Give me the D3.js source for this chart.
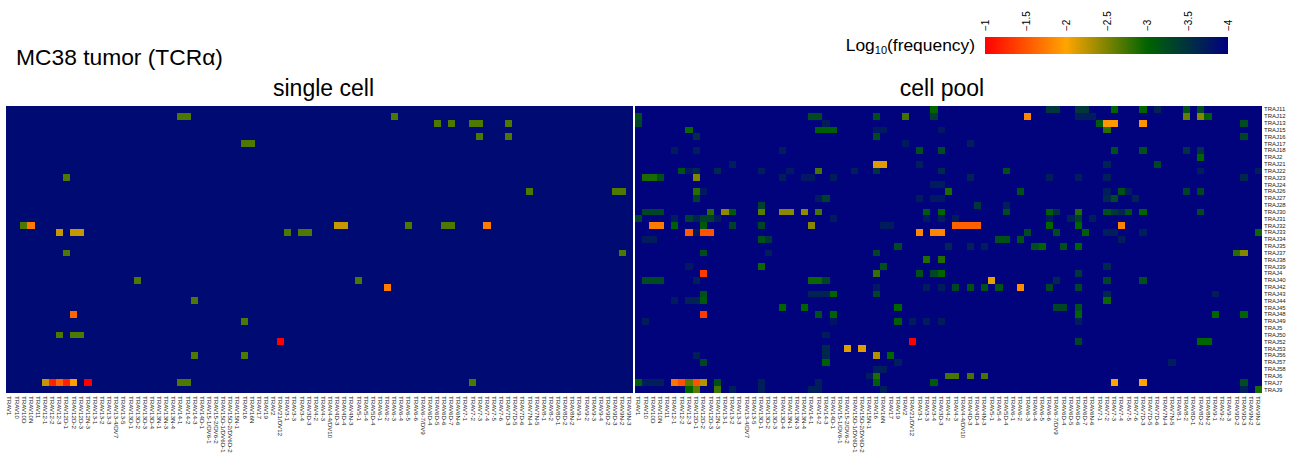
<!DOCTYPE html>
<html>
<head>
<meta charset="utf-8">
<script src="https://cdn.jsdelivr.net/npm/d3@7"></script>
<style>
  body { margin: 0; background: #fff; }
  text { font-family: "Liberation Sans", Arial, sans-serif; fill: #000; }
</style>
</head>
<body>
<div id="chart"></div>
<script>
var trajGenes = ["TRAJ11","TRAJ12","TRAJ13","TRAJ15","TRAJ16","TRAJ17","TRAJ18","TRAJ2","TRAJ21","TRAJ22","TRAJ23","TRAJ24","TRAJ26","TRAJ27","TRAJ28","TRAJ30","TRAJ31","TRAJ32","TRAJ33","TRAJ34","TRAJ35","TRAJ37","TRAJ38","TRAJ39","TRAJ4","TRAJ40","TRAJ42","TRAJ43","TRAJ44","TRAJ45","TRAJ48","TRAJ49","TRAJ5","TRAJ50","TRAJ52","TRAJ53","TRAJ56","TRAJ57","TRAJ58","TRAJ6","TRAJ7","TRAJ9"];

var travSingle = ["TRAV1","TRAV10","TRAV10D","TRAV10N","TRAV11","TRAV12-1","TRAV12-2","TRAV12-3","TRAV12D-1","TRAV12D-2","TRAV12D-3","TRAV12N-3","TRAV13-1","TRAV13-2","TRAV13-3","TRAV13-4/DV7","TRAV13-5","TRAV13D-1","TRAV13D-2","TRAV13D-3","TRAV13D-4","TRAV13N-1","TRAV13N-3","TRAV13N-4","TRAV14-1","TRAV14-2","TRAV14-3","TRAV14D-1","TRAV15-1/DV6-1","TRAV15-2/DV6-2","TRAV15D-1/DV6D-1","TRAV15D-2/DV6D-2","TRAV15N-1","TRAV16","TRAV16N","TRAV17","TRAV19","TRAV2","TRAV21/DV12","TRAV3-1","TRAV3-3","TRAV3-4","TRAV3D-3","TRAV4-2","TRAV4-3","TRAV4-4/DV10","TRAV4D-3","TRAV4D-4","TRAV4N-3","TRAV5-1","TRAV5-4","TRAV5D-4","TRAV6-1","TRAV6-2","TRAV6-3","TRAV6-4","TRAV6-5","TRAV6-6","TRAV6-7/DV9","TRAV6D-4","TRAV6D-5","TRAV6D-6","TRAV6D-7","TRAV6N-6","TRAV7-1","TRAV7-2","TRAV7-3","TRAV7-4","TRAV7-5","TRAV7-6","TRAV7D-3","TRAV7D-5","TRAV7D-6","TRAV7N-4","TRAV7N-5","TRAV8-1","TRAV8-2","TRAV8D-1","TRAV8D-2","TRAV8N-2","TRAV9-1","TRAV9-2","TRAV9-3","TRAV9-4","TRAV9D-2","TRAV9D-3","TRAV9N-2","TRAV9N-3"];
// the cell pool panel has no TRAV9-4 column
var travPool = travSingle.filter(function(d) { return d !== "TRAV9-4"; });

var legendTicks = [-1, -1.5, -2, -2.5, -3, -3.5, -4];

// [TRAJ index, TRAV index, log10 frequency]
var singleCells = [
  [1,24,-2.69],[1,25,-2.69],[1,54,-2.69],
  [2,60,-2.69],[2,62,-2.69],[2,65,-2.69],[2,66,-2.69],[2,70,-2.69],
  [4,66,-2.69],[4,70,-2.69],
  [5,33,-2.69],[5,34,-2.69],
  [10,8,-2.69],
  [12,73,-2.69],[12,85,-2.69],[12,86,-2.69],
  [17,2,-2.69],[17,3,-1.74],[17,46,-2.22],[17,47,-2.22],[17,56,-2.69],[17,61,-2.69],[17,62,-2.69],[17,67,-1.74],
  [18,7,-2.22],[18,9,-2.22],[18,10,-2.22],[18,39,-2.69],[18,41,-2.69],[18,42,-2.69],
  [21,8,-2.69],[21,86,-2.69],
  [25,18,-2.69],[25,49,-2.69],
  [26,53,-1.74],
  [28,26,-2.69],
  [30,9,-1.62],
  [31,33,-2.69],
  [33,7,-2.69],[33,9,-2.69],[33,10,-2.69],
  [34,38,-1],
  [36,26,-2.69],[36,33,-2.69],
  [40,5,-2.22],[40,6,-1.2],[40,7,-1.6],[40,8,-1.2],[40,9,-1.97],[40,11,-1],[40,24,-2.69],[40,25,-2.69],[40,65,-2.69]
];

var poolCells = [
  [0,41,-3],[0,57,-3.45],[0,58,-3.45],[0,61,-3.45],[0,62,-3.45],[0,66,-3],[0,70,-3],[0,72,-3.65],[0,76,-3.2],[0,78,-3.25],
  [1,0,-3.2],[1,24,-3.25],[1,25,-3.25],[1,33,-3.2],[1,37,-2.75],[1,41,-3.4],[1,54,-1.82],[1,61,-3.7],[1,62,-3.7],[1,63,-3.7],[1,76,-2.6],[1,78,-2.47],[1,79,-3.05],
  [2,0,-3.3],[2,26,-3.7],[2,64,-3.1],[2,65,-1.92],[2,66,-1.92],[2,70,-1.9],[2,84,-3.25],
  [3,7,-2.95],[3,25,-3.05],[3,26,-3.05],[3,27,-3.05],[3,33,-3.75],[3,34,-3.75],[3,42,-3.75],[3,65,-2.85],
  [4,8,-3.55],[4,33,-3.25],[4,84,-3.3],
  [5,37,-3.75],[5,46,-3.7],
  [6,5,-3.72],[6,8,-3.7],[6,20,-3.7],[6,39,-3.2],[6,42,-3.25],[6,66,-3.2],[6,70,-3.2],[6,76,-3.5],[6,78,-3.5],
  [7,78,-3],
  [8,13,-3.7],[8,33,-2.12],[8,34,-2.12],[8,39,-3.7],[8,65,-3.65],[8,72,-3.3],
  [9,6,-3.2],[9,7,-3.75],[9,8,-3.6],[9,11,-3.6],[9,17,-3.7],[9,21,-3.75],[9,25,-2.72],[9,30,-3.7],[9,33,-3.5],[9,42,-3.6],[9,51,-3.2],[9,78,-3.7],[9,86,-3.7],
  [10,1,-2.9],[10,2,-2.9],[10,3,-3.2],[10,8,-2.5],[10,20,-3.7],[10,23,-3.75],[10,24,-3.75],[10,27,-3.72],[10,46,-3.65],[10,57,-3.7],[10,61,-3.7],[10,65,-3.7],[10,84,-3.6],
  [11,41,-3.72],[11,42,-3.72],
  [12,8,-2.85],[12,9,-3.75],[12,43,-2.9],[12,53,-3.2],[12,65,-3.7],[12,67,-3.2],[12,68,-3.72],[12,76,-3.35],[12,78,-3.3],
  [13,8,-3.35],[13,25,-3.72],[13,26,-3.35],[13,39,-3.72],[13,41,-3.75],[13,42,-3.75],[13,65,-3.6],[13,66,-3.25],[13,69,-3.65],
  [14,17,-3.35],[14,47,-3.45],[14,51,-3.7],
  [15,1,-3.3],[15,2,-3.3],[15,3,-3.3],[15,10,-2.85],[15,12,-2.45],[15,13,-3.1],[15,17,-2.65],[15,20,-2.45],[15,21,-2.45],[15,23,-2.42],[15,25,-2.72],[15,40,-3.1],[15,42,-3],[15,51,-3.25],[15,57,-3.05],[15,58,-3.5],[15,61,-2.88],[15,65,-3.2],[15,66,-3.45],[15,67,-3.6],[15,68,-3.2],[15,70,-3],[15,78,-3.25],
  [16,0,-3.3],[16,5,-3.7],[16,7,-3.35],[16,8,-3.65],[16,9,-3.35],[16,10,-3.35],[16,11,-3.72],[16,27,-3.72],[16,40,-3.75],[16,42,-3.7],[16,44,-3.72],[16,57,-3.72],[16,60,-3.65],[16,61,-3.35],[16,63,-3.7],
  [17,2,-1.74],[17,3,-1.74],[17,5,-3.05],[17,9,-3.1],[17,13,-3.35],[17,17,-3.3],[17,24,-2.47],[17,34,-3.72],[17,35,-3.72],[17,44,-1.58],[17,45,-1.58],[17,46,-1.58],[17,47,-1.58],[17,57,-3],[17,61,-3],[17,67,-1.78],
  [18,7,-1.55],[18,8,-3.75],[18,9,-1.5],[18,10,-1.5],[18,39,-1.82],[18,41,-1.82],[18,42,-1.82],[18,54,-3.25],[18,58,-3.25],[18,62,-3.05],[18,65,-3.7],[18,66,-3.7],[18,70,-3.7],[18,86,-2.95],
  [19,1,-3.72],[19,2,-3.72],[19,17,-3.2],[19,18,-3.45],[19,50,-3.2],[19,51,-3.2],[19,53,-3.2],[19,67,-3.7],
  [20,36,-3.25],[20,43,-3.6],[20,46,-3.65],[20,48,-3.7],[20,55,-3.2],[20,56,-3],[20,59,-3.2],[20,61,-3],
  [21,9,-3.25],[21,18,-3.7],[21,33,-3.3],[21,83,-2.85],[21,84,-2.47],
  [22,40,-2.87],[22,42,-2.87],
  [23,7,-3.75],[23,17,-2.95],[23,34,-3.2],[23,65,-3.6],
  [24,9,-1.35],[24,33,-2.8],[24,39,-3.2],[24,41,-3.3],[24,42,-3],[24,61,-3.45],
  [25,1,-3.25],[25,2,-3.25],[25,3,-3.25],[25,8,-3.7],[25,24,-2.95],[25,25,-2.95],[25,26,-3.3],[25,49,-2.1],[25,58,-3.6],[25,65,-3.3],[25,70,-3.2],
  [26,33,-3.75],[26,40,-3.72],[26,42,-3.72],[26,44,-3.3],[26,46,-3.2],[26,48,-3.2],[26,50,-3.2],[26,53,-1.85],[26,57,-3.3],[26,61,-3.3],
  [27,9,-3.2],[27,24,-3.65],[27,25,-3.65],[27,26,-3.65],[27,27,-3],[27,33,-3.3],[27,65,-3.6],[27,80,-3.7],
  [28,5,-3.72],[28,7,-3.65],[28,8,-3.65],[28,9,-3.1],[28,65,-2.95],
  [29,20,-3],[29,23,-3],[29,36,-3],[29,58,-3.3],[29,59,-3.3],[29,61,-3.2],
  [30,9,-1.35],[30,25,-3.2],[30,27,-3],[30,61,-3],[30,80,-3],[30,84,-3],
  [31,1,-3.72],[31,27,-3.8],[31,36,-3.05],[31,38,-3.72],[31,40,-3.72],[31,42,-3.72],[31,61,-3.7],
  [33,26,-3.72],
  [34,38,-1],[34,61,-3.3],[34,78,-3],[34,79,-3],
  [35,26,-3.6],[35,29,-2.12],[35,31,-2.12],
  [36,8,-3.7],[36,26,-3.6],[36,33,-2.3],[36,35,-3],
  [37,9,-3.3],[37,26,-3.05],[37,36,-3.7],[37,74,-3.7],
  [38,33,-3.7],[38,34,-3.7],
  [39,32,-3.72],[39,33,-2.88],[39,43,-2.72],[39,44,-2.72],[39,46,-2.72],[39,48,-2.72],
  [40,0,-3.05],[40,1,-3.7],[40,2,-3.7],[40,3,-3.7],[40,5,-1.7],[40,6,-1.5],[40,7,-2.65],[40,8,-1.5],[40,9,-2.28],[40,11,-3.2],[40,17,-3.7],[40,25,-3.7],[40,33,-3.05],[40,41,-3.1],[40,66,-2],[40,70,-2],[40,84,-3.25],
  [41,7,-3],[41,8,-2.65],[41,11,-2.75],[41,13,-3.7],[41,17,-3.7],[41,24,-3.7],[41,25,-3.7],[41,34,-3.7],[41,84,-3.7],[41,86,-2.9]
];

var width = 1301, height = 462;
var plotTop = 106, plotBottom = 393;

var svg = d3.select("#chart").append("svg")
  .attr("width", width)
  .attr("height", height)
  .style("display", "block");

var color = d3.scaleLinear()
  .domain([-1, -2, -3, -4])
  .range(["red", "orange", "darkgreen", "navy"]);

var y = d3.scaleBand().domain(trajGenes).range([plotTop, plotBottom]);

function drawPanel(left, right, labels, cells, bgValue) {
  var x = d3.scaleBand().domain(labels).range([left, right]);

  svg.append("rect")
    .attr("x", left)
    .attr("y", plotTop)
    .attr("width", right - left)
    .attr("height", plotBottom - plotTop)
    .style("fill", color(bgValue));

  svg.append("g").selectAll("rect")
    .data(cells)
    .enter()
    .append("rect")
    .attr("x", function(d) { return x(labels[d[1]]); })
    .attr("y", function(d) { return y(trajGenes[d[0]]); })
    .attr("width", x.bandwidth())
    .attr("height", y.bandwidth())
    .attr("shape-rendering", "crispEdges")
    .style("fill", function(d) { return color(d[2]); });

  var axis = svg.append("g")
    .attr("transform", "translate(0," + plotBottom + ")")
    .call(d3.axisBottom(x).tickSize(0).tickPadding(0));
  axis.select(".domain").remove();
  axis.selectAll("text")
    .attr("transform", "rotate(90)")
    .attr("text-anchor", "start")
    .attr("x", 3)
    .attr("y", 0)
    .attr("dy", "0.35em")
    .style("font-size", "6.2px")
    .style("font-family", '"Liberation Sans", Arial, sans-serif')
    .style("fill", "#222");
}

drawPanel(6, 633, travSingle, singleCells, -3.9);
drawPanel(635, 1262, travPool, poolCells, -3.97);

// TRAJ labels on the right side
var yAxis = svg.append("g")
  .attr("transform", "translate(1262,0)")
  .call(d3.axisRight(y).tickSize(0).tickPadding(2));
yAxis.select(".domain").remove();
yAxis.selectAll("text")
  .style("font-size", "6px")
  .style("font-family", '"Liberation Sans", Arial, sans-serif')
  .style("fill", "#222");

// titles
svg.append("text")
  .attr("x", 16)
  .attr("y", 65)
  .style("font-size", "22.8px")
  .text("MC38 tumor (TCRα)");

svg.append("text")
  .attr("x", 323.5)
  .attr("y", 96)
  .attr("text-anchor", "middle")
  .style("font-size", "23px")
  .text("single cell");

svg.append("text")
  .attr("x", 942)
  .attr("y", 96)
  .attr("text-anchor", "middle")
  .style("font-size", "23px")
  .text("cell pool");

// colour legend
var legendScale = d3.scaleLinear().domain([-1, -4]).range([985, 1228]);

var gradient = svg.append("defs").append("linearGradient")
  .attr("id", "legend-gradient");
gradient.selectAll("stop")
  .data(color.domain())
  .enter()
  .append("stop")
  .attr("offset", function(d) { return (d + 1) / -3; })
  .attr("stop-color", function(d) { return color(d); });

svg.append("rect")
  .attr("x", 985)
  .attr("y", 37)
  .attr("width", 243)
  .attr("height", 17)
  .style("fill", "url(#legend-gradient)");

var legendAxis = svg.append("g")
  .attr("transform", "translate(0,31)")
  .call(d3.axisTop(legendScale)
    .tickValues(legendTicks)
    .tickSize(0)
    .tickPadding(0)
    .tickFormat(function(d) { return String(d).replace("-", "\u2212"); }));
legendAxis.select(".domain").remove();
legendAxis.selectAll("text")
  .attr("transform", "rotate(-90)")
  .attr("text-anchor", "start")
  .attr("x", 0)
  .attr("y", 0)
  .attr("dy", "0.35em")
  .style("font-size", "10px")
  .style("font-family", '"Liberation Sans", Arial, sans-serif')
  .style("fill", "#000");

var legendTitle = svg.append("text")
  .attr("x", 975)
  .attr("y", 51)
  .attr("text-anchor", "end")
  .style("font-size", "17.4px");
legendTitle.append("tspan").text("Log");
legendTitle.append("tspan").attr("dy", 3).style("font-size", "11px").text("10");
legendTitle.append("tspan").attr("dy", -3).text("(frequency)");
</script>
</body>
</html>
